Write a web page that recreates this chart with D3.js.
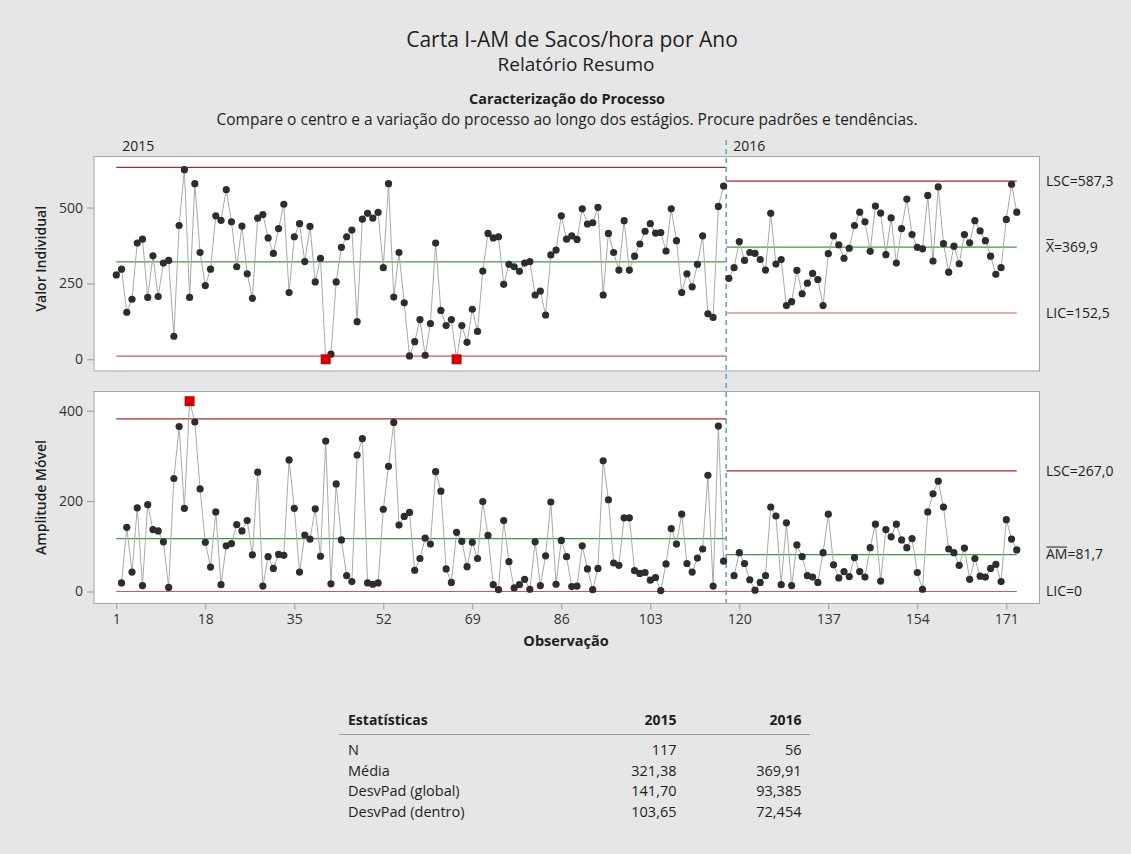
<!DOCTYPE html>
<html><head><meta charset="utf-8">
<script src="https://cdn.jsdelivr.net/npm/d3@7"></script>
<style>
body{margin:0;background:#e6e6e6;}
svg{display:block;font-family:"Open Sans",sans-serif;}
</style></head><body>
<svg id="c" width="1131" height="854"></svg>
<script>
// ---------------- data ----------------
const stages = ["2015", "2016"];
const stageSizes = [117, 56];
const values = [
  278,297,155,198,383,396,204,341,207,317,
  326,76,441,625,204,579,352,243,297,473,
  458,559,453,305,439,282,201,465,477,400,
  349,431,511,220,404,447,322,438,255,333,
  0,17,255,369,404,426,124,462,481,465,
  484,302,579,205,352,186,11,58,131,13,
  118,383,161,111,131,0,111,56,165,92,
  291,415,400,404,247,313,305,290,317,322,
  212,225,146,344,360,473,396,407,395,496,
  446,450,501,212,415,352,294,457,294,340,
  380,422,447,416,418,357,496,391,220,282,
  239,313,407,150,138,504,571,
  // 2016
  267,302,388,326,352,349,329,294,481,314,
  329,177,190,293,216,251,283,263,177,348,
  407,377,333,366,441,485,453,356,505,482,
  345,466,317,431,528,411,369,364,540,324,
  568,381,287,373,315,411,384,457,423,391,
  340,280,302,461,577,485
];
const centerI = [321.38, 369.91];
const uclI = [632.33, 587.27];
const lclI = [10.43, 152.55];
const centerMR = [116.92, 81.73];
const uclMR = [381.98, 267.0];
const lclMR = [0, 0];
const xTicks = [1, 18, 35, 52, 69, 86, 103, 120, 137, 154, 171];
const yTicksI = [0, 250, 500];
const yTicksMR = [0, 200, 400];
const limitLabelsI = ["LSC=587,3", "=369,9", "LIC=152,5"];
const limitLabelsMR = ["LSC=267,0", "=81,7", "LIC=0"];
const statHeader = ["Estatísticas", "2015", "2016"];
const statRows = ["N", "Média", "DesvPad (global)", "DesvPad (dentro)"];
const stat2015 = ["117", "321,38", "141,70", "103,65"];
const stat2016 = ["56", "369,91", "93,385", "72,454"];

// ---------------- derived ----------------
const pts = [];
let idx = 0;
stageSizes.forEach((n, s) => {
  for (let k = 0; k < n; k++) {
    const v = values[idx];
    const mr = k === 0 ? null : Math.abs(v - values[idx - 1]);
    pts.push({obs: idx + 1, stage: s, v, mr});
    idx++;
  }
});
const stageStart = [], stageEnd = [];
{ let a = 1; stageSizes.forEach(n => { stageStart.push(a); stageEnd.push(a + n - 1); a += n; }); }

// ---------------- layout ----------------
const svg = d3.select("#c");
const frameL = 94, frameR = 1039.5;
const topP = {y0: 156.5, y1: 371};
const botP = {y0: 391.5, y1: 603.5};
const x = d3.scaleLinear().domain([1, 171]).range([116.3, 1006.3]);
const yI = d3.scaleLinear().domain([0, 500]).range([359.3, 207.6]);
const yM = d3.scaleLinear().domain([0, 400]).range([591.5, 410.7]);
const txt = "#1e1e1e";

// titles
svg.append("text").attr("x", 572).attr("y", 46.5).attr("text-anchor", "middle")
  .attr("font-size", 21).attr("fill", txt).text("Carta I-AM de Sacos/hora por Ano");
svg.append("text").attr("x", 576).attr("y", 70.5).attr("text-anchor", "middle")
  .attr("font-size", 19).attr("fill", txt).text("Relatório Resumo");
svg.append("text").attr("x", 567).attr("y", 104).attr("text-anchor", "middle")
  .attr("font-size", 14.4).attr("font-weight", "bold").attr("fill", txt).text("Caracterização do Processo");
svg.append("text").attr("x", 567).attr("y", 125).attr("text-anchor", "middle")
  .attr("font-size", 15.5).attr("fill", txt)
  .text("Compare o centro e a variação do processo ao longo dos estágios. Procure padrões e tendências.");

// panels
[topP, botP].forEach(p => {
  svg.append("rect").attr("x", frameL).attr("y", p.y0).attr("width", frameR - frameL)
    .attr("height", p.y1 - p.y0).attr("fill", "#fff").attr("stroke", "#a6a6a6").attr("stroke-width", 1);
});

// stage labels
stages.forEach((s, i) => {
  const xs = i === 0 ? x(stageStart[i]) + 6 : x(stageStart[i] - 0.5) + 7;
  svg.append("text").attr("x", xs).attr("y", 150.5).attr("font-size", 14).attr("fill", txt).text(s);
});

function stageX(s) {
  const a = s === 0 ? x(stageStart[s]) : x(stageStart[s] - 0.5);
  const b = s === stages.length - 1 ? x(stageEnd[s]) : x(stageEnd[s] + 0.5);
  return [a, b];
}

function drawLimits(y, center, ucl, lcl) {
  stages.forEach((_, s) => {
    const [a, b] = stageX(s);
    [[ucl[s], "#a82a2a"], [lcl[s], "#c85a5a"], [center[s], "#3d9b45"]].forEach(([v, c]) => {
      svg.append("line").attr("x1", a).attr("x2", b).attr("y1", y(v)).attr("y2", y(v))
        .attr("stroke", c).attr("stroke-width", 1.2);
    });
  });
}
drawLimits(yI, centerI, uclI, lclI);
drawLimits(yM, centerMR, uclMR, lclMR);

// stage divider
const xDiv = x(stageEnd[0] + 0.5);
svg.append("line").attr("x1", xDiv).attr("x2", xDiv).attr("y1", 140).attr("y2", 603)
  .attr("stroke", "#6a9fd6").attr("stroke-width", 1.6).attr("stroke-dasharray", "5,4");

function drawSeries(y, key, ucl, lcl) {
  stages.forEach((_, s) => {
    const d = pts.filter(p => p.stage === s && p[key] !== null);
    svg.append("path").datum(d)
      .attr("d", d3.line().x(p => x(p.obs)).y(p => y(p[key])))
      .attr("fill", "none").attr("stroke", "#a9a9a9").attr("stroke-width", 1);
  });
  const d = pts.filter(p => p[key] !== null);
  const out = p => p[key] > ucl[p.stage] || p[key] < lcl[p.stage];
  svg.append("g").selectAll("circle").data(d.filter(p => !out(p))).join("circle")
    .attr("cx", p => x(p.obs)).attr("cy", p => y(p[key])).attr("r", 3.6).attr("fill", "#2d2d2d");
  svg.append("g").selectAll("rect").data(d.filter(out)).join("rect")
    .attr("x", p => x(p.obs) - 5).attr("y", p => y(p[key]) - 5).attr("width", 10).attr("height", 10)
    .attr("fill", "#d40000");
}
drawSeries(yI, "v", uclI, lclI);
drawSeries(yM, "mr", uclMR, lclMR);

// axes
function styleAxis(g) {
  g.select(".domain").remove();
  g.selectAll(".tick line").attr("stroke", "#9a9a9a");
  g.selectAll(".tick text").attr("fill", "#333").attr("font-size", 14)
    .attr("font-family", "'Open Sans',sans-serif");
}
svg.append("g").attr("transform", `translate(${frameL},0)`)
  .call(d3.axisLeft(yI).tickValues(yTicksI).tickSize(7).tickPadding(4).tickFormat(d3.format("d")))
  .call(styleAxis);
svg.append("g").attr("transform", `translate(${frameL},0)`)
  .call(d3.axisLeft(yM).tickValues(yTicksMR).tickSize(7).tickPadding(4).tickFormat(d3.format("d")))
  .call(styleAxis);
svg.append("g").attr("transform", `translate(0,${botP.y1})`)
  .call(d3.axisBottom(x).tickValues(xTicks).tickSize(6).tickPadding(5).tickFormat(d3.format("d")))
  .call(styleAxis);

// axis titles
svg.append("text").attr("transform", `translate(46,${(topP.y0 + topP.y1) / 2 - 5}) rotate(-90)`)
  .attr("text-anchor", "middle").attr("font-size", 14).attr("font-weight", 600).attr("fill", txt)
  .text("Valor Individual");
svg.append("text").attr("transform", `translate(46,${(botP.y0 + botP.y1) / 2}) rotate(-90)`)
  .attr("text-anchor", "middle").attr("font-size", 14).attr("font-weight", 600).attr("fill", txt)
  .text("Amplitude Móvel");
svg.append("text").attr("x", 566).attr("y", 646).attr("text-anchor", "middle")
  .attr("font-size", 14.5).attr("font-weight", "bold").attr("fill", txt).text("Observação");

// right-side limit labels (last stage)
const last = stages.length - 1;
function limitLabel(y, v, label, barText) {
  const t = svg.append("text").attr("x", 1046).attr("y", y(v)).attr("dy", "0.35em")
    .attr("font-size", 14).attr("fill", txt);
  if (barText) {
    t.append("tspan").text(barText);
    t.append("tspan").text(label);
    const w = t.node().getSubStringLength(0, barText.length);
    svg.append("line").attr("x1", 1046.5).attr("x2", 1046 + w - 0.5)
      .attr("y1", y(v) - 7.5).attr("y2", y(v) - 7.5).attr("stroke", txt).attr("stroke-width", 1);
  } else t.text(label);
}
limitLabel(yI, uclI[last], limitLabelsI[0]);
limitLabel(yI, centerI[last], limitLabelsI[1], "X");
limitLabel(yI, lclI[last], limitLabelsI[2]);
limitLabel(yM, uclMR[last], limitLabelsMR[0]);
limitLabel(yM, centerMR[last], limitLabelsMR[1], "AM");
limitLabel(yM, lclMR[last], limitLabelsMR[2]);

// statistics table
const colX = [348, 676.5, 801.5];
statHeader.forEach((h, i) => {
  svg.append("text").attr("x", colX[i]).attr("y", 725).attr("text-anchor", i ? "end" : "start")
    .attr("font-size", 14).attr("font-weight", "bold").attr("fill", txt).text(h);
});
svg.append("line").attr("x1", 339).attr("x2", 810).attr("y1", 734.5).attr("y2", 734.5)
  .attr("stroke", "#9a9a9a").attr("stroke-width", 1);
statRows.forEach((r, i) => {
  const yy = 755 + i * 20.6;
  svg.append("text").attr("x", colX[0]).attr("y", yy).attr("font-size", 14.5).attr("fill", txt).text(r);
  svg.append("text").attr("x", colX[1]).attr("y", yy).attr("text-anchor", "end").attr("font-size", 14.5).attr("fill", txt).text(stat2015[i]);
  svg.append("text").attr("x", colX[2]).attr("y", yy).attr("text-anchor", "end").attr("font-size", 14.5).attr("fill", txt).text(stat2016[i]);
});
</script>
</body></html>
